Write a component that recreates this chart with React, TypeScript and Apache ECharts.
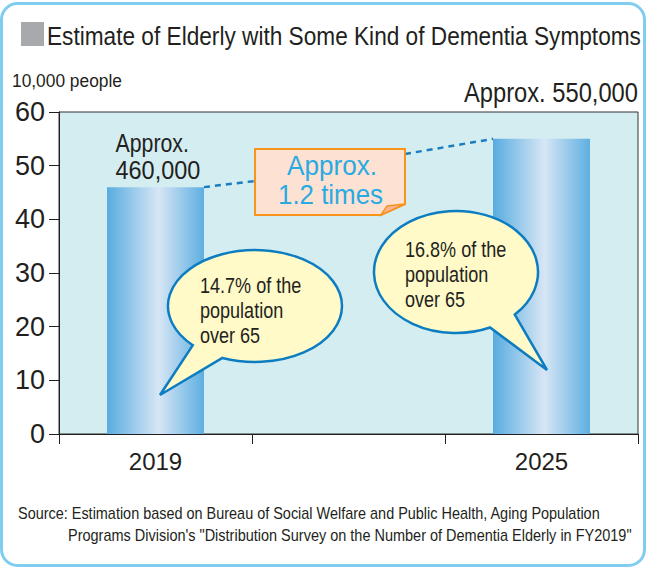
import React, { useEffect, useRef } from "react";
import * as echarts from "echarts";

// ---------- data ----------
const categories = ["2019", "", "2025"];
const values: (number | null)[] = [46, null, 55];
const yMin = 0;
const yMax = 60;
const yInterval = 10;
const titleText = "Estimate of Elderly with Some Kind of Dementia Symptoms";
const unitText = "10,000 people";
const firstBarLabel = ["Approx.", "460,000"];
const lastBarLabel = "Approx. 550,000";
const ratioLines = ["Approx.", "1.2 times"];
const bubble1Lines = ["14.7% of the", "population", "over 65"];
const bubble2Lines = ["16.8% of the", "population", "over 65"];
const sourceLines = [
  "Source: Estimation based on Bureau of Social Welfare and Public Health, Aging Population",
  "Programs Division's \"Distribution Survey on the Number of Dementia Elderly in FY2019\"",
];

// ---------- styles ----------
const FONT = '"Liberation Sans", Arial, sans-serif';
const INK = "#231f20";
const BUBBLE_FILL = "#fffac8";
const BUBBLE_STROKE = "#0d7dc2";
const NARROW = 0.82; // Arial Narrow / Arial width ratio

// speech bubble outlines (ellipse + tail), decoration only
function bubblePath(cx: number, cy: number, rx: number, ry: number, a1: number, a2: number, tx: number, ty: number) {
  const r = Math.PI / 180;
  const ax = cx + rx * Math.cos(a1 * r), ay = cy + ry * Math.sin(a1 * r);
  const bx = cx + rx * Math.cos(a2 * r), by = cy + ry * Math.sin(a2 * r);
  return `M${ax} ${ay}A${rx} ${ry} 0 1 1 ${bx} ${by}L${tx} ${ty}Z`;
}
echarts.graphic.registerShape("bubbleA", echarts.graphic.extendPath(bubblePath(255, 306, 87, 56, 135.6, 112, 160, 395), {}));
echarts.graphic.registerShape("bubbleB", echarts.graphic.extendPath(bubblePath(456, 272, 82, 61, 65.5, 44.2, 547, 370), {}));

const BAR_WIDTH = 97;

let measureCtx: CanvasRenderingContext2D | null = null;
function textWidth(text: string, size: number) {
  if (!measureCtx) measureCtx = document.createElement("canvas").getContext("2d");
  if (!measureCtx) return text.length * size * 0.5;
  measureCtx.font = `${size}px "Liberation Sans", Arial, sans-serif`;
  return measureCtx.measureText(text).width;
}

export default function App() {
  const ref = useRef<HTMLDivElement>(null);
  useEffect(() => {
    if (!ref.current) return;
    const chart = echarts.init(ref.current, undefined, { renderer: "svg" });
    chart.setOption({
      animation: false,
      backgroundColor: "#ffffff",
      grid: {
        left: 59,
        right: 9,
        top: 112,
        bottom: 135,
        containLabel: false,
        outerBoundsMode: "none",
        show: true,
        backgroundColor: "#d4edf1",
        borderColor: "#333333",
        borderWidth: 1,
      },
      xAxis: {
        type: "category",
        data: categories,
        boundaryGap: true,
        axisLine: { show: true, lineStyle: { color: INK, width: 1 } },
        axisTick: { show: true, length: 10, alignWithLabel: false, interval: 0, lineStyle: { color: INK } },
        axisLabel: { fontSize: 24, color: INK, fontFamily: FONT, margin: 15, interval: 0 },
        splitLine: { show: false },
      },
      yAxis: {
        type: "value",
        min: yMin,
        max: yMax,
        interval: yInterval,
        axisLine: { show: true, lineStyle: { color: INK, width: 1 } },
        axisTick: { show: true, length: 10, lineStyle: { color: INK } },
        axisLabel: { fontSize: 27, color: INK, fontFamily: FONT, margin: 14 },
        splitLine: { show: false },
      },
      series: [
        {
          type: "bar",
          data: values,
          barWidth: BAR_WIDTH,
          itemStyle: {
            color: {
              type: "linear",
              x: 0,
              y: 0,
              x2: 1,
              y2: 0,
              colorStops: [
                { offset: 0, color: "#58ace0" },
                { offset: 0.53, color: "#d7e6f5" },
                { offset: 1, color: "#5eafe1" },
              ],
            },
          },
        },
      ],
    });

    const p0 = chart.convertToPixel({ gridIndex: 0 }, [0, values[0] as number]) as number[];
    const p2 = chart.convertToPixel({ gridIndex: 0 }, [2, values[2] as number]) as number[];
    const half = BAR_WIDTH / 2;

    // text drawn narrow; if a target width is given, the text is fitted to it
    const txt = (text: string, x: number, y: number, size: number, extra: any = {}, target?: number) => {
      const sx = target ? target / textWidth(text, size) : NARROW;
      return {
        type: "text",
        z: 20,
        x,
        y,
        scaleX: sx,
        style: { text, fontSize: size, fontFamily: FONT, fill: INK, verticalAlign: "middle", align: "left", ...extra },
      };
    };

    const graphic: any[] = [
      {
        type: "rect",
        z: 20,
        shape: { x: 1.5, y: 3.5, width: 643, height: 562, r: 16 },
        style: { fill: "none", stroke: "#7fcdf1", lineWidth: 3 },
      },
      { type: "rect", z: 20, shape: { x: 21, y: 22, width: 23, height: 24 }, style: { fill: "#a7a9ac" } },
      txt(titleText, 47, 36, 26, {}, 594),
      txt(unitText, 12, 81, 19, {}, 110),
      txt(lastBarLabel, 638, 92, 28, { align: "right" }, 174),
      txt(firstBarLabel[0], p0[0] - 40, 143, 26),
      txt(firstBarLabel[1], p0[0] - 40, 170, 26, {}, 85),
      // dashed connectors
      {
        type: "line",
        z: 20,
        shape: { x1: p0[0] + half, y1: p0[1], x2: 255, y2: 181 },
        style: { stroke: "#1b7dc0", lineWidth: 2.5, lineDash: [6, 5] },
      },
      {
        type: "line",
        z: 20,
        shape: { x1: 405, y1: 154, x2: p2[0] - half, y2: p2[1] },
        style: { stroke: "#1b7dc0", lineWidth: 2.5, lineDash: [6, 5] },
      },
      // ratio box with folded corner
      {
        type: "polygon",
        z: 20,
        shape: { points: [[255, 149], [405, 149], [405, 204], [381, 215], [255, 215]] },
        style: { fill: "#fde1d3", stroke: "#f7941d", lineWidth: 2 },
      },
      {
        type: "polygon",
        z: 21,
        shape: { points: [[381, 215], [405, 204], [387, 206]] },
        style: { fill: "#f9b49a", stroke: "#f7941d", lineWidth: 1.5 },
      },
      txt(ratioLines[0], 287, 166, 27, { fill: "#29abe2" }, 90),
      txt(ratioLines[1], 278, 195, 27, { fill: "#29abe2" }, 105),
      // bubbles
      { type: "bubbleA", z: 20, x: 0, y: 0, style: { fill: BUBBLE_FILL, stroke: BUBBLE_STROKE, lineWidth: 2.5 } },
      { type: "bubbleB", z: 20, x: 0, y: 0, style: { fill: BUBBLE_FILL, stroke: BUBBLE_STROKE, lineWidth: 2.5 } },
      ...bubble1Lines.map((t, i) => txt(t, 200, 285 + i * 25, 22)),
      ...bubble2Lines.map((t, i) => txt(t, 405, 249 + i * 25, 22)),
      txt(sourceLines[0], 18, 513, 16, {}, 583),
      txt(sourceLines[1], 68, 535, 16, {}, 564),
    ];
    chart.setOption({ graphic });

    return () => chart.dispose();
  }, []);

  return <div ref={ref} style={{ position: "fixed", left: 0, top: 0, width: 647, height: 569 }} />;
}
